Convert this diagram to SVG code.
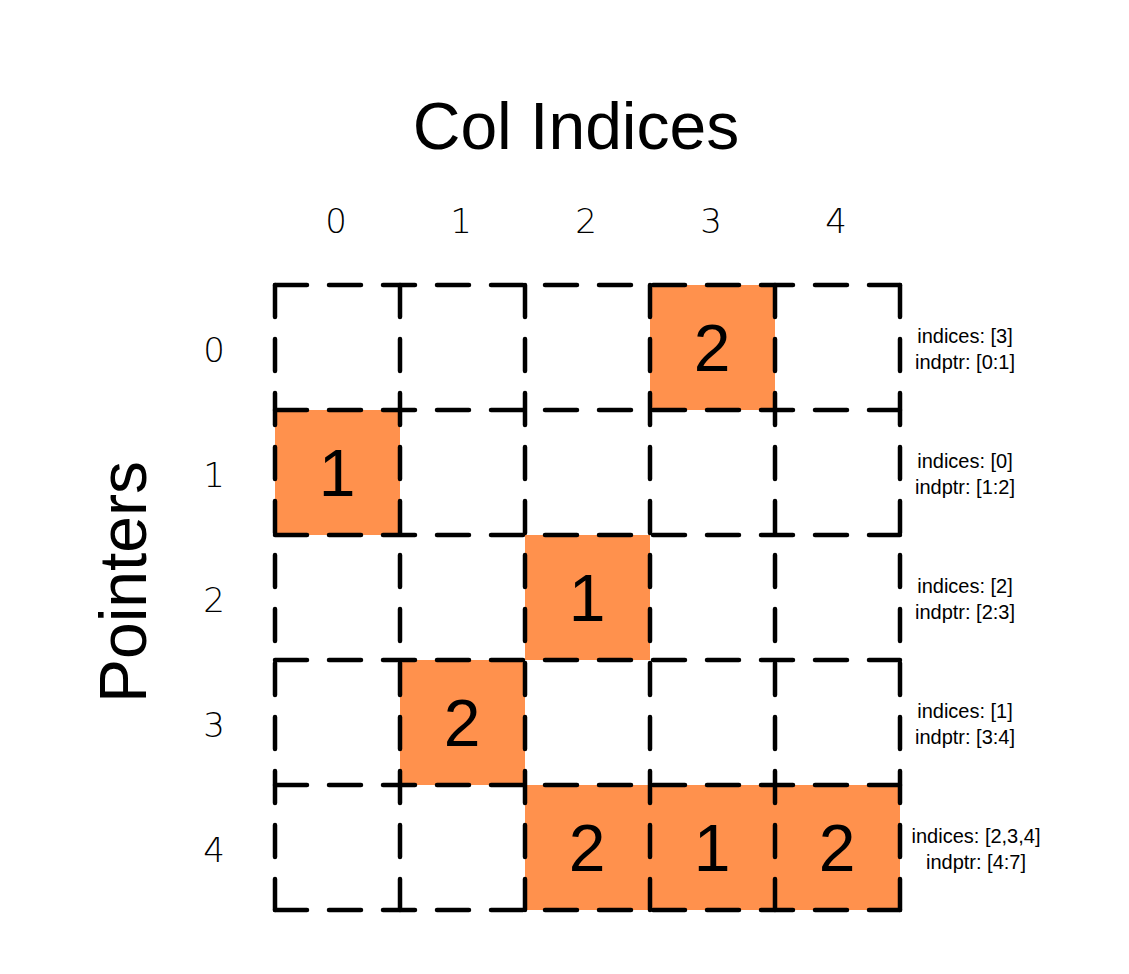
<svg xmlns="http://www.w3.org/2000/svg" width="1129" height="974" viewBox="0 0 1129 974">
<style>
.bg{fill:#ffffff}
.cell{fill:#FF914D}
.grid line{stroke:#000;stroke-width:4.5;stroke-dasharray:32 22;stroke-linecap:round;fill:none}
.val{font-family:"Liberation Sans",Arial,sans-serif;font-size:66px;fill:#000;text-anchor:middle}
.title{font-family:"Liberation Sans",Arial,sans-serif;font-size:66px;fill:#000;text-anchor:middle}
.idx{font-family:"DejaVu Sans","Liberation Mono",monospace;font-weight:200;font-size:34px;fill:#000;text-anchor:middle}
.note{font-family:"Liberation Sans",Arial,sans-serif;font-size:20px;fill:#000;text-anchor:middle}
</style>
<rect class="bg" x="0" y="0" width="1129" height="974"/>
<g id="title"><text class="title" x="576" y="149">Col Indices</text></g>
<g id="ylabel"><text class="title" transform="translate(146,582) rotate(-90)" x="0" y="0">Pointers</text></g>
<g id="col-labels">
<text class="idx" x="336" y="233">0</text>
<text class="idx" x="461" y="233">1</text>
<text class="idx" x="586" y="233">2</text>
<text class="idx" x="711" y="233">3</text>
<text class="idx" x="836" y="233">4</text>
</g>
<g id="row-labels">
<text class="idx" x="214" y="362">0</text>
<text class="idx" x="214" y="487">1</text>
<text class="idx" x="214" y="612">2</text>
<text class="idx" x="214" y="737">3</text>
<text class="idx" x="214" y="862">4</text>
</g>
<g id="cell-0-3"><rect class="cell" x="650" y="285" width="125" height="125"/></g>
<g id="cell-1-0"><rect class="cell" x="275" y="410" width="125" height="125"/></g>
<g id="cell-2-2"><rect class="cell" x="525" y="535" width="125" height="125"/></g>
<g id="cell-3-1"><rect class="cell" x="400" y="660" width="125" height="125"/></g>
<g id="cell-4-2"><rect class="cell" x="525" y="785" width="125" height="125"/></g>
<g id="cell-4-3"><rect class="cell" x="650" y="785" width="125" height="125"/></g>
<g id="cell-4-4"><rect class="cell" x="775" y="785" width="125" height="125"/></g>
<g id="grid" class="grid">
<line x1="275" y1="285" x2="900" y2="285"/>
<line x1="275" y1="410" x2="900" y2="410"/>
<line x1="275" y1="535" x2="900" y2="535"/>
<line x1="275" y1="660" x2="900" y2="660"/>
<line x1="275" y1="785" x2="900" y2="785"/>
<line x1="275" y1="910" x2="900" y2="910"/>
<line x1="275" y1="285" x2="275" y2="910"/>
<line x1="400" y1="285" x2="400" y2="910"/>
<line x1="525" y1="285" x2="525" y2="910"/>
<line x1="650" y1="285" x2="650" y2="910"/>
<line x1="775" y1="285" x2="775" y2="910"/>
<line x1="900" y1="285" x2="900" y2="910"/>
</g>
<g id="values">
<text class="val" x="712" y="371">2</text>
<text class="val" x="337" y="496">1</text>
<text class="val" x="587" y="621">1</text>
<text class="val" x="462" y="746">2</text>
<text class="val" x="587" y="871">2</text>
<text class="val" x="712" y="871">1</text>
<text class="val" x="837" y="871">2</text>
</g>
<g id="notes">
<text class="note" x="965" y="343">indices: [3]</text>
<text class="note" x="965" y="369">indptr: [0:1]</text>
<text class="note" x="965" y="468">indices: [0]</text>
<text class="note" x="965" y="494">indptr: [1:2]</text>
<text class="note" x="965" y="593">indices: [2]</text>
<text class="note" x="965" y="619">indptr: [2:3]</text>
<text class="note" x="965" y="718">indices: [1]</text>
<text class="note" x="965" y="744">indptr: [3:4]</text>
<text class="note" x="976" y="843">indices: [2,3,4]</text>
<text class="note" x="976" y="869">indptr: [4:7]</text>
</g>
</svg>
